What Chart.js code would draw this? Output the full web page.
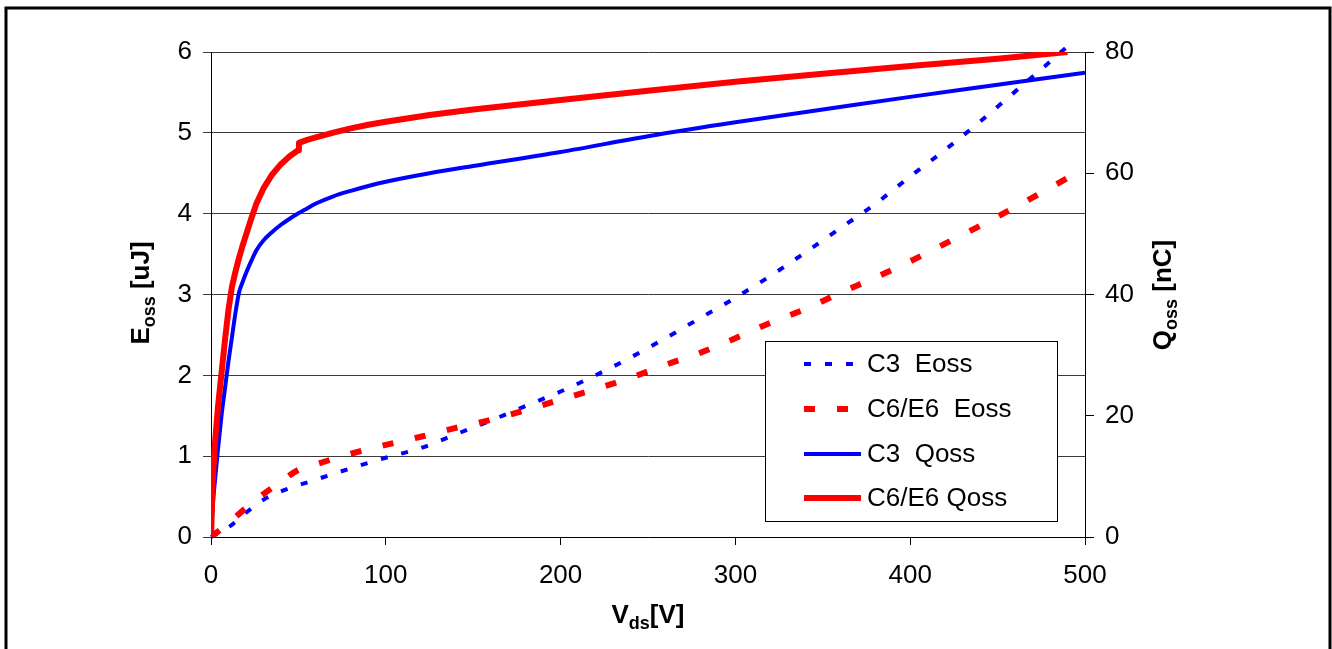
<!DOCTYPE html>
<html>
<head>
<meta charset="utf-8">
<script src="https://cdn.jsdelivr.net/npm/chart.js@4"></script>
<style>
  body { margin: 0; background: #fff; }
  #wrap { width: 1332px; height: 649px; position: relative; }
</style>
</head>
<body>
<div id="wrap"><canvas id="qossChart"></canvas></div>
<script>
// Eoss curves share one voltage grid
const vdsE = [0, 10, 20, 30, 40, 50, 60, 80, 100, 120, 140, 160, 180, 200, 220, 240, 260, 280, 300, 320, 340, 360, 380, 400, 420, 440, 460, 480, 490, 500];
const c3Eoss = [0, 0.12, 0.30, 0.46, 0.565, 0.64, 0.71, 0.85, 0.98, 1.10, 1.27, 1.44, 1.62, 1.80, 2.00, 2.22, 2.46, 2.71, 2.96, 3.23, 3.52, 3.82, 4.12, 4.46, 4.79, 5.14, 5.51, 5.88, 6.07, null];
const c6Eoss = [0, 0.17, 0.36, 0.53, 0.685, 0.83, 0.90, 1.03, 1.14, 1.24, 1.35, 1.45, 1.57, 1.70, 1.83, 1.97, 2.13, 2.28, 2.46, 2.65, 2.82, 3.02, 3.21, 3.41, 3.63, 3.85, 4.08, 4.32, 4.44, 4.56];

// Qoss curves (C6/E6 has a small step near 50 V)
const c3QossVds = [0, 1, 2, 4, 6, 8, 10, 12, 14, 16, 18, 20, 23, 26, 30, 35, 40, 45, 50, 55, 60, 70, 80, 90, 100, 125, 150, 200, 250, 300, 350, 400, 450, 500];
const c3Qoss = [0, 5.2, 8.5, 14.5, 20, 24.5, 29, 33, 37, 40.3, 42, 43.5, 45.5, 47.3, 48.9, 50.3, 51.5, 52.5, 53.4, 54.2, 55, 56.2, 57.1, 57.9, 58.6, 60, 61.2, 63.5, 66.1, 68.4, 70.5, 72.6, 74.6, 76.6];
const c6QossVds = [0, 1, 2, 4, 6, 8, 10, 12, 14, 16, 18, 20, 23, 26, 30, 35, 40, 45, 49.8, 50.3, 55, 60, 70, 80, 90, 100, 125, 150, 200, 250, 300, 350, 400, 450, 490];
const c6Qoss = [0, 9, 14.5, 21.5, 27, 32.5, 37.5, 41.3, 43.8, 46, 48, 49.8, 52.5, 55, 57.5, 59.8, 61.5, 62.8, 63.8, 65, 65.5, 65.9, 66.7, 67.4, 68, 68.5, 69.6, 70.5, 72.1, 73.6, 75.1, 76.4, 77.7, 78.9, 80];

const xTicks = [0, 100, 200, 300, 400, 500];
const eTicks = [0, 1, 2, 3, 4, 5, 6];
const qTicks = [0, 20, 40, 60, 80];

const FONT = 'Liberation Sans, Arial, sans-serif';

function pts(xs, ys) {
    return xs.map((x, i) => ({ x: x, y: ys[i] }));
}

// draws text made of normal + subscript parts, centred on (x, y)
function drawSubText(ctx, parts, x, y, angle) {
    ctx.save();
    ctx.translate(x, y);
    ctx.rotate(angle);
    ctx.fillStyle = '#000';
    ctx.textBaseline = 'alphabetic';
    ctx.textAlign = 'left';
    let total = 0;
    parts.forEach(p => {
        ctx.font = 'bold ' + p.size + 'px ' + FONT;
        p.w = ctx.measureText(p.t).width;
        total += p.w;
    });
    let cx = -total / 2;
    parts.forEach(p => {
        ctx.font = 'bold ' + p.size + 'px ' + FONT;
        ctx.fillText(p.t, cx, p.dy || 0);
        cx += p.w;
    });
    ctx.restore();
}

const decor = {
    id: 'decor',
    beforeDraw(chart) {
        const ctx = chart.ctx;
        ctx.save();
        ctx.fillStyle = '#fff';
        ctx.fillRect(0, 0, chart.width, chart.height);
        ctx.restore();
    },
    afterDraw(chart) {
        const ctx = chart.ctx;
        // outer frame
        ctx.save();
        ctx.strokeStyle = '#000';
        ctx.lineWidth = 3;
        ctx.strokeRect(6, 8, 1324, 700);
        ctx.restore();

        // axis titles
        drawSubText(ctx, [{ t: 'E', size: 26, dy: 0 }, { t: 'oss', size: 18, dy: 6 }, { t: ' [uJ]', size: 26, dy: 0 }], 149, 293, -Math.PI / 2);
        drawSubText(ctx, [{ t: 'Q', size: 26, dy: 0 }, { t: 'oss', size: 18, dy: 6 }, { t: ' [nC]', size: 26, dy: 0 }], 1171, 295, -Math.PI / 2);
        drawSubText(ctx, [{ t: 'V', size: 26, dy: 0 }, { t: 'ds', size: 18, dy: 6 }, { t: '[V]', size: 26, dy: 0 }], 648, 623, 0);

        // legend box
        const box = { x: 765, y: 341, w: 292, h: 180 };
        ctx.save();
        ctx.fillStyle = '#fff';
        ctx.fillRect(box.x, box.y, box.w, box.h);
        ctx.strokeStyle = '#000';
        ctx.lineWidth = 1;
        ctx.strokeRect(box.x + 0.5, box.y + 0.5, box.w, box.h);
        const rows = [364, 409, 454, 498];
        chart.data.datasets.forEach((ds, i) => {
            const y = rows[i];
            ctx.beginPath();
            ctx.strokeStyle = ds.borderColor;
            ctx.lineWidth = ds.borderWidth;
            ctx.lineCap = 'butt';
            ctx.setLineDash(ds.borderDash || []);
            ctx.moveTo(804, y);
            ctx.lineTo(861, y);
            ctx.stroke();
            ctx.setLineDash([]);
            ctx.fillStyle = '#000';
            ctx.font = '26px ' + FONT;
            ctx.textBaseline = 'middle';
            ctx.textAlign = 'left';
            ctx.fillText(ds.label, 867, y + 1);
        });
        ctx.restore();
    }
};

const ctx = document.getElementById('qossChart').getContext('2d');
new Chart(ctx, {
    type: 'line',
    data: {
        datasets: [
            {
                label: 'C3  Eoss',
                data: pts(vdsE, c3Eoss),
                yAxisID: 'y',
                borderColor: '#0000ff',
                borderWidth: 4,
                borderDash: [7, 14],
                cubicInterpolationMode: 'monotone',
                clip: false,
                order: 3
            },
            {
                label: 'C6/E6  Eoss',
                data: pts(vdsE, c6Eoss),
                yAxisID: 'y',
                borderColor: '#ff0000',
                borderWidth: 6,
                borderDash: [11, 22],
                cubicInterpolationMode: 'monotone',
                order: 2
            },
            {
                label: 'C3  Qoss',
                data: pts(c3QossVds, c3Qoss),
                yAxisID: 'y2',
                borderColor: '#0000ff',
                borderWidth: 4,
                cubicInterpolationMode: 'monotone',
                order: 1
            },
            {
                label: 'C6/E6 Qoss',
                data: pts(c6QossVds, c6Qoss),
                yAxisID: 'y2',
                borderColor: '#ff0000',
                borderWidth: 6,
                order: 0
            }
        ]
    },
    options: {
        responsive: true,
        maintainAspectRatio: false,
        animation: false,
        devicePixelRatio: 1,
        layout: { padding: { top: 52, left: 0, right: 0, bottom: 0 } },
        elements: {
            point: { radius: 0 },
            line: { tension: 0, fill: false, borderCapStyle: 'butt', borderJoinStyle: 'round' }
        },
        plugins: {
            legend: { display: false },
            tooltip: { enabled: false }
        },
        scales: {
            x: {
                type: 'linear',
                min: 0,
                max: 500,
                afterBuildTicks: s => { s.ticks = xTicks.map(v => ({ value: v })); },
                afterFit: s => { s.height = 112; },
                ticks: { color: '#000', font: { family: FONT, size: 26 }, padding: 15, maxRotation: 0 },
                grid: { drawOnChartArea: false, drawTicks: true, tickLength: 8, color: '#000' },
                border: { display: true, color: '#000', width: 1 }
            },
            y: {
                position: 'left',
                min: 0,
                max: 6,
                afterBuildTicks: s => { s.ticks = eTicks.map(v => ({ value: v })); },
                afterFit: s => { s.width = 211; },
                ticks: { color: '#000', font: { family: FONT, size: 26 }, padding: 11 },
                grid: { color: '#3a3a3a', lineWidth: 1, tickLength: 8 },
                border: { display: true, color: '#000', width: 1 }
            },
            y2: {
                position: 'right',
                min: 0,
                max: 80,
                afterBuildTicks: s => { s.ticks = qTicks.map(v => ({ value: v })); },
                afterFit: s => { s.width = 247; },
                ticks: { color: '#000', font: { family: FONT, size: 26 }, padding: 11 },
                grid: { drawOnChartArea: false, tickLength: 9, color: '#000' },
                border: { display: true, color: '#000', width: 1 }
            }
        }
    },
    plugins: [decor]
});
</script>
</body>
</html>
